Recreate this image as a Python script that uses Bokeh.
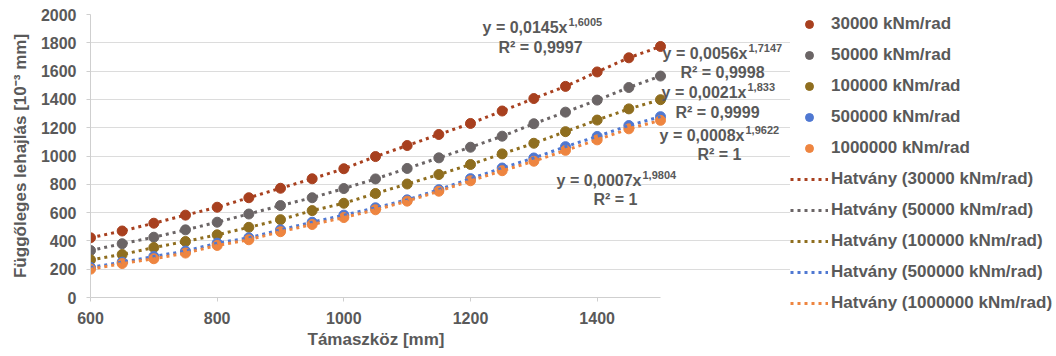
from bokeh.plotting import figure
from bokeh.models import Label, Legend, LegendItem, FixedTicker, Range1d, Title
from bokeh.layouts import row
from bokeh.embed import file_html
from bokeh.resources import INLINE

# ---------------- data ----------------
span_mm = [600, 650, 700, 750, 800, 850, 900, 950, 1000, 1050,
           1100, 1150, 1200, 1250, 1300, 1350, 1400, 1450, 1500]
d_30000 = [422, 470, 525, 582, 638, 705, 772, 839, 910, 996,
           1074, 1152, 1230, 1318, 1406, 1492, 1594, 1694, 1774]
d_50000 = [332, 380, 426, 478, 532, 590, 650, 705, 770, 838,
           912, 987, 1062, 1140, 1228, 1310, 1395, 1484, 1565]
d_100000 = [266, 304, 353, 396, 443, 496, 550, 614, 666, 735,
            802, 869, 940, 1015, 1090, 1172, 1254, 1333, 1398]
d_500000 = [212, 250, 290, 328, 384, 422, 478, 532, 582, 634,
            690, 762, 840, 915, 986, 1066, 1138, 1215, 1278]
d_1000000 = [200, 240, 274, 314, 368, 408, 465, 516, 565, 620,
             681, 751, 825, 896, 963, 1040, 1114, 1192, 1252]

series_names = ["30000 kNm/rad", "50000 kNm/rad", "100000 kNm/rad",
                "500000 kNm/rad", "1000000 kNm/rad"]
series_values = [d_30000, d_50000, d_100000, d_500000, d_1000000]
trend_names = ["Hatvány (" + n + ")" for n in series_names]
equations = [("y = 0,0145x", "1,6005", "R² = 0,9997"),
             ("y = 0,0056x", "1,7147", "R² = 0,9998"),
             ("y = 0,0021x", "1,833", "R² = 0,9999"),
             ("y = 0,0008x", "1,9622", "R² = 1"),
             ("y = 0,0007x", "1,9804", "R² = 1")]
x_ticks = [600, 800, 1000, 1200, 1400]
y_ticks = [0, 200, 400, 600, 800, 1000, 1200, 1400, 1600, 1800, 2000]
x_span = (600, 1500)
y_span = (0, 2000)

# ---------------- styles ----------------
colors = ["#A8401F", "#6B6566", "#8F6E1F", "#4F78D2", "#EE8540"]
FONT = "Liberation Sans"
TXT = "#595959"

LEFT, TOP, DATA_W, FRAME_H = 90, 14, 570, 283
FRAME_W = 700                       # frame runs past the data so side labels fit
x_end = x_span[0] + FRAME_W * (x_span[1] - x_span[0]) / DATA_W

p = figure(width=LEFT + FRAME_W, height=356, output_backend="svg", toolbar_location=None,
           x_range=Range1d(x_span[0], x_end), y_range=Range1d(*y_span),
           frame_width=FRAME_W, frame_height=FRAME_H,
           min_border_left=LEFT, min_border_right=0,
           min_border_top=TOP, min_border_bottom=356 - TOP - FRAME_H)
p.outline_line_color = None
p.background_fill_color = "white"
p.border_fill_color = "white"

p.xaxis.ticker = FixedTicker(ticks=x_ticks)
p.yaxis.ticker = FixedTicker(ticks=y_ticks)
p.xaxis.bounds = x_span
p.xgrid.grid_line_color = None
p.ygrid.grid_line_color = "#DCDCDC"
p.ygrid.grid_line_width = 1
p.ygrid.bounds = x_span

for ax in (p.xaxis, p.yaxis):
    ax.axis_line_color = "#CFCFCF"
    ax.major_tick_line_color = "#CFCFCF"
    ax.major_tick_in = 0
    ax.major_tick_out = 4
    ax.minor_tick_line_color = None
    ax.major_label_text_font = FONT
    ax.major_label_text_font_style = "bold"
    ax.major_label_text_font_size = "16px"
    ax.major_label_text_color = TXT
    ax.axis_label_text_font = FONT
    ax.axis_label_text_font_style = "bold"
    ax.axis_label_text_font_size = "17px"
    ax.axis_label_text_color = TXT

p.yaxis.axis_label = "Függőleges lehajlás [10⁻³ mm]"
p.xaxis.major_label_standoff = 10
p.yaxis.major_label_standoff = 10
p.yaxis.axis_label_standoff = 8

# x-axis title, centred under the data span rather than the wider frame
p.add_layout(Title(text="Támaszköz [mm]", align="left", offset=217, standoff=2,
                   text_font=FONT, text_font_style="bold", text_font_size="17px",
                   text_color=TXT), "below")

for vals, c in zip(series_values, colors):
    p.scatter(span_mm, vals, size=10, color=c, line_color=c)
for vals, c in zip(series_values, colors):
    p.line(span_mm, vals, line_color=c, line_width=3, line_dash="3 4")

# equation labels (page-pixel positions converted to data units)
def dx(px):
    return x_span[0] + (px - LEFT) * (x_span[1] - x_span[0]) / DATA_W

def dy(py):
    return (TOP + FRAME_H - py) * (y_span[1] - y_span[0]) / FRAME_H

# (end x of main text, y of main text, centre x of R², y of R²)
eq_pos = [(567, 27, 540, 47),
          (747, 53, 722, 72),
          (746, 92, 717, 112),
          (744, 135, 719, 154),
          (641, 180, 615, 199)]

for (main, expo, r2), (ex, ey, rx, ry) in zip(equations, eq_pos):
    p.add_layout(Label(x=dx(ex), y=dy(ey), text=main, text_align="right",
                       text_baseline="middle", text_font=FONT, text_font_style="bold",
                       text_font_size="16px", text_color=TXT))
    p.add_layout(Label(x=dx(ex + 1), y=dy(ey - 6), text=expo, text_align="left",
                       text_baseline="middle", text_font=FONT, text_font_style="bold",
                       text_font_size="11px", text_color=TXT))
    p.add_layout(Label(x=dx(rx), y=dy(ry), text=r2, text_align="center",
                       text_baseline="middle", text_font=FONT, text_font_style="bold",
                       text_font_size="16px", text_color=TXT))

# ---------------- legend panel ----------------
LW = 1056 - LEFT - FRAME_W
q = figure(width=LW, height=356, output_backend="svg", toolbar_location=None,
           x_range=Range1d(0, 1), y_range=Range1d(0, 1),
           frame_width=LW, frame_height=356 - 14,
           min_border_left=0, min_border_right=0, min_border_top=14, min_border_bottom=0,
           x_axis_location=None, y_axis_location=None)
q.outline_line_color = None
q.grid.visible = False
q.background_fill_color = "white"
q.border_fill_color = "white"

items = []
for n, vals, c in zip(series_names, series_values, colors):
    r = q.scatter(span_mm, vals, size=8, color=c, line_color=c)   # outside the ranges: only the legend swatch shows
    items.append(LegendItem(label=n, renderers=[r]))
for n, vals, c in zip(trend_names, series_values, colors):
    r = q.line(span_mm, vals, line_color=c, line_width=3, line_dash="3 4")
    items.append(LegendItem(label=n, renderers=[r]))

legend = Legend(items=items, location="top_left", orientation="vertical",
                glyph_width=38, glyph_height=20, label_height=20, spacing=11,
                label_standoff=3, padding=0, margin=0,
                border_line_color=None, background_fill_alpha=0,
                label_text_font=FONT, label_text_font_style="bold",
                label_text_font_size="17px", label_text_color=TXT)
q.add_layout(legend, "center")

layout = row(p, q, spacing=0)
open("out.html", "w").write(file_html(layout, INLINE))
